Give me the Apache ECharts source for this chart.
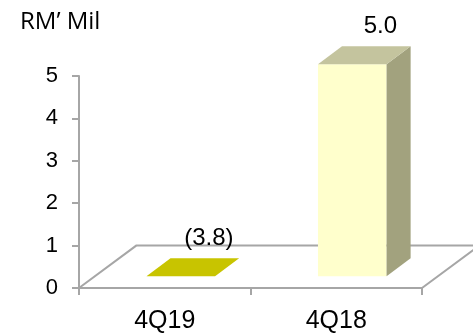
<!DOCTYPE html>
<html>
<head>
<meta charset="utf-8">
<script src="https://cdn.jsdelivr.net/npm/echarts@6/dist/echarts.min.js"></script>
<style>
  html, body { margin: 0; padding: 0; background: #fff; }
  #chart { width: 473px; height: 334px; }
</style>
</head>
<body>
<div id="chart"></div>
<script>
// Quarterly figures, RM' Mil
const categories = ['4Q19', '4Q18'];
const values = [-3.8, 5.0];
const yMin = 0;
const yMax = 5;
const yStep = 1;

// Face colours for positive bars and the colour used for a negative bar
const frontColor = '#FFFFCC';
const topColor = '#C4C49E';
const sideColor = '#A2A27E';
const negativeColor = '#C8C400';
const lineColor = '#A6A6A6';

const FONT = '"Liberation Sans", Arial, sans-serif';

// Oblique projection of the floor: depth of one y unit, leaning right
const DEPTH_X_RATIO = 1.35;
const BAR_FRONT = 0.28;   // bar front as a fraction of floor depth
const BAR_BACK = 0.70;    // bar back as a fraction of floor depth
const BAR_WIDTH = 0.40;   // share of the category band

function fmt(v) {
  return v < 0 ? '(' + Math.abs(v).toFixed(1) + ')' : v.toFixed(1);
}

function depthVec(api) {
  const dy = api.size([0, 1])[1];
  return [dy * DEPTH_X_RATIO, dy];
}

// Floor outline (left, back and right edges; the front edge is the x axis)
function renderFloor(params, api) {
  const cs = params.coordSys;
  const [dx, dy] = depthVec(api);
  const y0 = api.coord([0, yMin])[1];
  const x0 = cs.x, x1 = cs.x + cs.width;
  const style = { stroke: lineColor, lineWidth: 2, fill: null };
  return {
    type: 'group',
    children: [
      { type: 'polyline', shape: { points: [[x0, y0], [x0 + dx, y0 - dy], [x1 + dx, y0 - dy], [x1, y0]] }, style: style }
    ]
  };
}

// Box bars drawn from the value axis
function renderBar(params, api) {
  const idx = api.value(0);
  const v = api.value(1);
  const [dx, dy] = depthVec(api);
  const band = api.size([1, 0])[0];
  const w = band * BAR_WIDTH;
  const base = api.coord([idx, yMin]);
  const topPt = api.coord([idx, Math.max(v, yMin)]);
  const cx = base[0];
  const fx = dx * BAR_FRONT, fy = dy * BAR_FRONT;
  const bx = dx * BAR_BACK, by = dy * BAR_BACK;

  const xl = cx - w / 2, xr = cx + w / 2;
  const yb = base[1], yt = topPt[1];

  const FTL = [xl + fx, yt - fy], FTR = [xr + fx, yt - fy];
  const FBL = [xl + fx, yb - fy], FBR = [xr + fx, yb - fy];
  const BTL = [xl + bx, yt - by], BTR = [xr + bx, yt - by];
  const BBR = [xr + bx, yb - by];

  const children = [];
  if (v > yMin) {
    children.push(
      { type: 'polygon', shape: { points: [FBL, FBR, FTR, FTL] }, style: { fill: frontColor } },
      { type: 'polygon', shape: { points: [FTR, BTR, BBR, FBR] }, style: { fill: sideColor } },
      { type: 'polygon', shape: { points: [FTL, FTR, BTR, BTL] }, style: { fill: topColor } }
    );
  } else {
    children.push(
      { type: 'polygon', shape: { points: [FTL, FTR, BTR, BTL] }, style: { fill: negativeColor } }
    );
  }
  const labelX = (BTL[0] + BTR[0]) / 2 + 4;
  const labelY = BTL[1] - 20;
  children.push({
    type: 'text',
    x: labelX, y: labelY,
    style: {
      text: fmt(v), font: '24px ' + FONT, fill: '#000',
      align: 'center', verticalAlign: 'middle'
    },
    z2: 10
  });
  return { type: 'group', children: children };
}

const chart = echarts.init(document.getElementById('chart'), null, { renderer: 'canvas' });
chart.setOption({
  animation: false,
  backgroundColor: '#fff',
  title: {
    text: 'RM\u2019 Mil',
    left: 15, top: 5,
    textStyle: { fontFamily: '"Open Sans", sans-serif', fontSize: 24, fontWeight: 'normal', color: '#000' }
  },
  grid: { left: 79, right: 51, top: 76, bottom: 43 },
  xAxis: {
    type: 'category',
    data: categories,
    boundaryGap: true,
    axisLine: { show: true, lineStyle: { color: lineColor, width: 2 } },
    axisTick: { show: true, length: 7, lineStyle: { color: lineColor, width: 2 } },
    axisLabel: { color: '#000', fontSize: 25, fontFamily: FONT, margin: 21 },
    splitLine: { show: false }
  },
  yAxis: {
    type: 'value',
    min: yMin, max: yMax, interval: yStep,
    axisLine: { show: true, lineStyle: { color: lineColor, width: 2 } },
    axisTick: { show: true, length: 7, lineStyle: { color: lineColor, width: 2 } },
    axisLabel: { color: '#000', fontSize: 22, fontFamily: FONT, margin: 21 },
    splitLine: { show: false }
  },
  series: [
    {
      type: 'custom',
      name: 'floor',
      renderItem: renderFloor,
      data: [[0, 0]],
      silent: true,
      z: 1
    },
    {
      type: 'custom',
      name: 'RM\u2019 Mil',
      renderItem: renderBar,
      encode: { x: 0, y: 1 },
      data: categories.map((c, i) => [i, values[i]]),
      z: 2
    }
  ]
});
</script>
</body>
</html>
